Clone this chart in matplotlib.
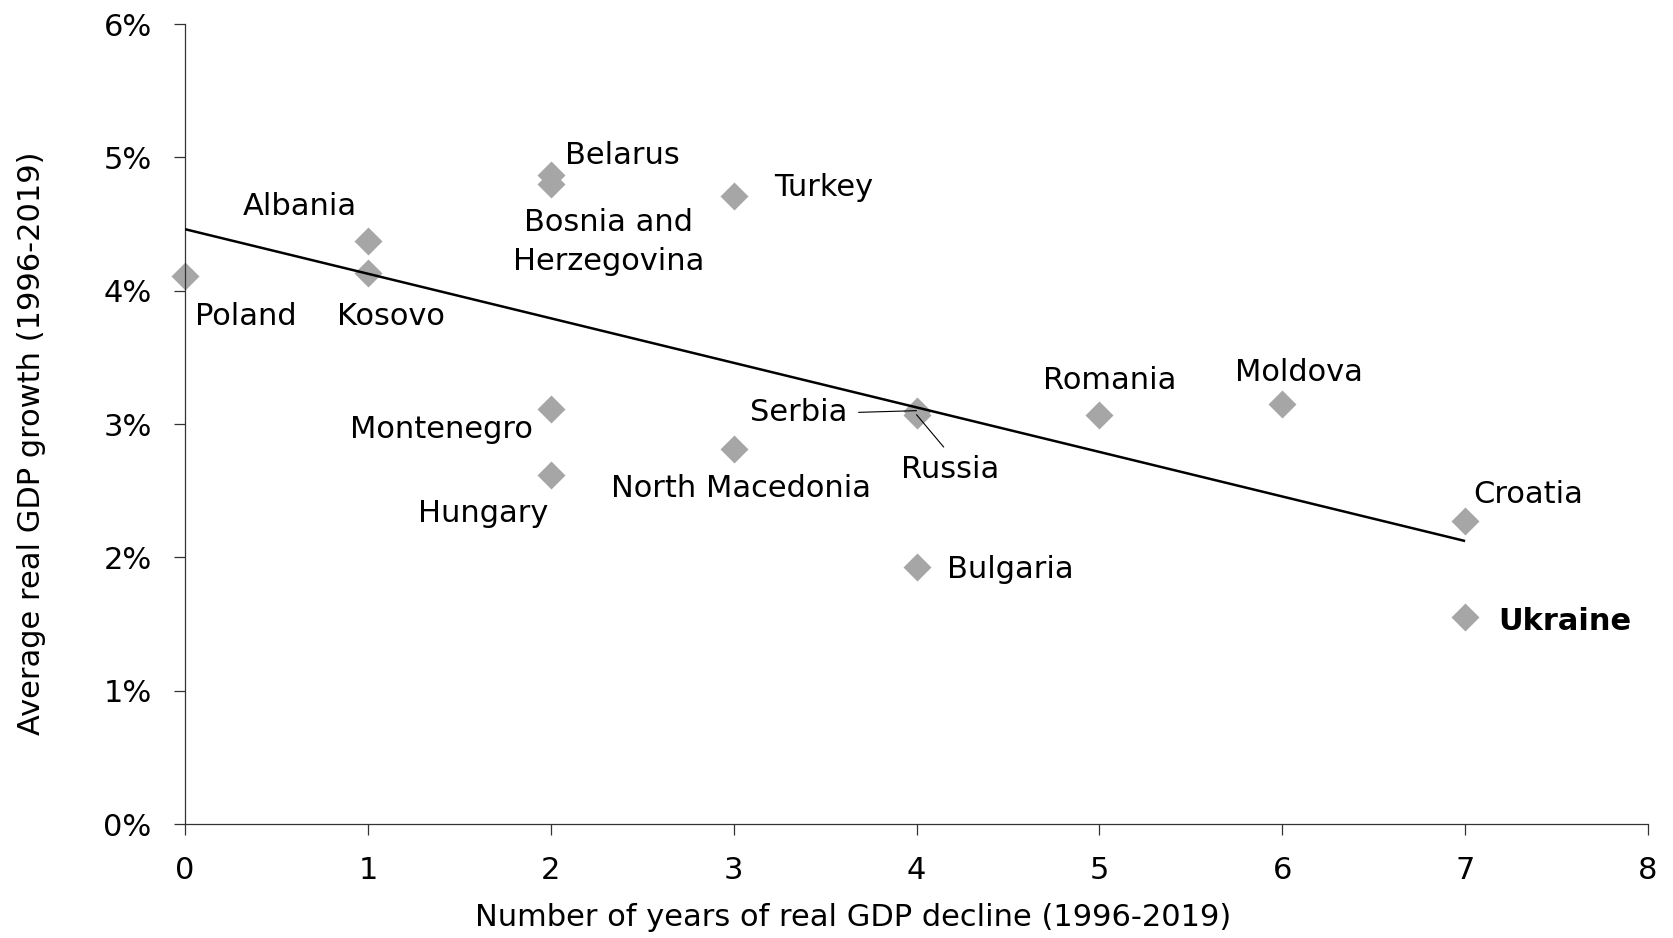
import numpy as np
import matplotlib
matplotlib.use("Agg")
import matplotlib.pyplot as plt
from matplotlib.ticker import FuncFormatter

plt.rcParams['font.family'] = ['DejaVu Sans']

# ---- data ----
countries = ["Poland", "Albania", "Kosovo", "Belarus", "Bosnia and\nHerzegovina",
             "Montenegro", "Hungary", "Turkey", "North Macedonia", "Serbia",
             "Russia", "Bulgaria", "Romania", "Moldova", "Croatia", "Ukraine"]
decline_years = [0, 1, 1, 2, 2, 2, 2, 3, 3, 4, 4, 4, 5, 6, 7, 7]
avg_growth = [4.11, 4.37, 4.13, 4.87, 4.80, 3.11, 2.62, 4.71, 2.81, 3.10,
              3.07, 1.93, 3.07, 3.15, 2.27, 1.55]
x_ticks = [0, 1, 2, 3, 4, 5, 6, 7, 8]
y_ticks = [0, 1, 2, 3, 4, 5, 6]

# label placement: (dx px, dy px downwards, ha)
label_offsets = {
    "Poland": (10, 40, "left"),
    "Albania": (-68, -35, "center"),
    "Kosovo": (23, 43, "center"),
    "Belarus": (14, -19, "left"),
    "Bosnia and\nHerzegovina": (58, 58, "center"),
    "Montenegro": (-18, 20, "right"),
    "Hungary": (-2, 39, "right"),
    "Turkey": (41, -9, "left"),
    "North Macedonia": (7, 39, "center"),
    "Serbia": (-69, 2, "right"),
    "Russia": (34, 55, "center"),
    "Bulgaria": (31, 3, "left"),
    "Romania": (10, -34, "center"),
    "Moldova": (17, -32, "center"),
    "Croatia": (8, -27, "left"),
    "Ukraine": (33, 4, "left"),
}

W, H = 1673, 938
fig = plt.figure(figsize=(W / 100, H / 100), dpi=100)
ax = fig.add_axes([185 / W, 1 - 824 / H, (1648 - 185) / W, (824 - 24) / H])

FS = 22
gray = "#A6A6A6"

ax.plot(decline_years, avg_growth, linestyle="none", marker="D", markersize=14.5,
        markerfacecolor=gray, markeredgecolor="none", zorder=2, clip_on=False)

# linear trend line
coef = np.polyfit(decline_years, avg_growth, 1)
xs = np.array([min(decline_years), max(decline_years)])
ax.plot(xs, np.polyval(coef, xs), color="black", lw=1.8, zorder=3,
        solid_capstyle="butt")

for name, xv, yv in zip(countries, decline_years, avg_growth):
    dx, dy, ha = label_offsets[name]
    kw = dict(xy=(xv, yv), xytext=(dx, -dy), textcoords="offset pixels",
              ha=ha, va="center", fontsize=FS, zorder=4,
              multialignment="center", linespacing=1.4)
    if name == "Ukraine":
        kw["fontweight"] = "bold"
    if name == "Serbia":
        kw["arrowprops"] = dict(arrowstyle="-", lw=0.8, color="black",
                                relpos=(1, 0.5), shrinkA=6, shrinkB=0)
    if name == "Russia":
        kw["arrowprops"] = dict(arrowstyle="-", lw=0.8, color="black",
                                relpos=(0.5, 1), shrinkA=5, shrinkB=0)
    ax.annotate(name, **kw)

ax.set_xlim(0, 8)
ax.set_ylim(0, 6)
ax.set_xticks(x_ticks)
ax.set_yticks(y_ticks)
ax.yaxis.set_major_formatter(FuncFormatter(lambda v, p: f"{v:.0f}%"))

for s in ["top", "right"]:
    ax.spines[s].set_visible(False)
for s in ["left", "bottom"]:
    ax.spines[s].set_color("#333333")
    ax.spines[s].set_linewidth(0.9)

ax.tick_params(axis="both", direction="out", length=8, width=0.9,
               color="#333333", labelsize=FS)
ax.tick_params(axis="y", pad=16)
ax.tick_params(axis="x", pad=15)

fig.text(853 / W, 1 - 917 / H, "Number of years of real GDP decline (1996-2019)",
         ha="center", va="center", fontsize=FS)
fig.text(32 / W, 1 - 443 / H, "Average real GDP growth (1996-2019)",
         ha="center", va="center", rotation=90, fontsize=FS)

fig.savefig("out.png", dpi=100)
